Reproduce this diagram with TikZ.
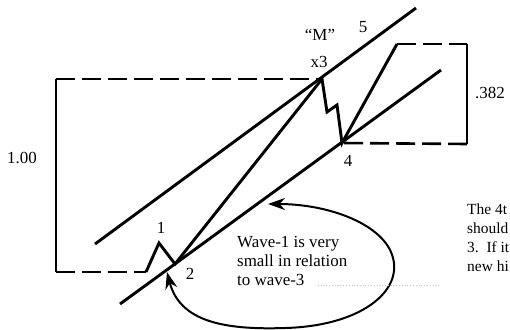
\documentclass[tikz,border=0pt]{standalone}
\usepackage{fontspec}
\setmainfont{Liberation Serif}
\usetikzlibrary{arrows.meta}

\begin{document}
\begin{tikzpicture}[
        x=1bp, y=-1bp,
        wave/.style={line width=2.9bp, line join=miter},
        guide/.style={line width=2.6bp, dash pattern=on 19bp off 7bp},
        side/.style={line width=2.2bp},
        lbl/.style={font=\fontsize{17}{19}\selectfont, inner sep=0pt},
        loop/.style={line width=2bp,
            {Stealth[length=17bp,width=12bp]}-{Stealth[length=17bp,width=12bp]}},
    ]

    \useasboundingbox (0,0) rectangle (510,329);
    \clip (0,0) rectangle (510,329);

    % wave points
    \coordinate (w0) at (146,272);
    \coordinate (w1) at (159,243);
    \coordinate (w2) at (175,264);
    \coordinate (w3) at (322,79);
    \coordinate (wa) at (327,112);
    \coordinate (wb) at (337,105);
    \coordinate (w4) at (342,143);
    \coordinate (w5) at (397,44);

    % channel
    \coordinate (upL) at (95,244);
    \coordinate (upR) at (416,8);
    \coordinate (loL) at (120,304);
    \coordinate (loR) at (441,70);

    % brackets
    \coordinate (bTop) at (56,79);
    \coordinate (bBot) at (56,272);
    \coordinate (rTop) at (467,44);
    \coordinate (rBot) at (467,144);

    \draw[wave] (upL) -- (upR);
    \draw[wave] (loL) -- (loR);
    \draw[wave] (w0) -- (w1) -- (w2) -- (w3) -- (wa) -- (wb) -- (w4) -- (w5);

    \draw[guide] (bTop) -- (w3);
    \draw[guide] (bBot) -- (w0);
    \draw[side] (bTop) -- (bBot);
    \draw[guide] (w5) -- (rTop);
    \draw[guide] (rBot) -- (w4);
    \draw[side] (rTop) -- (rBot);

    \node[lbl] (quoteM) at (320,35) {“M”};
    \node[lbl] (lblX3) at (319,62) {x3};
    \node[lbl] (lbl5) at (363,27) {5};
    \node[lbl] (lbl4) at (348,161) {4};
    \node[lbl] (lbl1) at (161,228) {1};
    \node[lbl] (lbl2) at (190,274) {2};
    \node[lbl] (ratioA) at (22,158) {1.00};
    \node[lbl] (ratioB) at (490,93) {.382};

    \node[lbl, align=left, anchor=north west] (note) at (237,236)
        {Wave-1 is very\\small in relation\\to wave-3};
    \node[lbl, font=\fontsize{15.5}{19}\selectfont, align=left,
        anchor=north west] (rule) at (467,204)
        {The 4t\\should\\3.\ \ If it\\new hi};

    % loop arrow
    \coordinate (lpA) at (167,272);
    \coordinate (lpB) at (268,204);
    \draw[loop] (lpA) .. controls (180,322) and (225,330) .. (285,328)
        .. controls (360,326) and (402,292) .. (393,258)
        .. controls (385,225) and (330,204) .. (lpB);

    \draw[gray!50, dotted, line width=0.8bp] (318,285) -- (440,285);

\end{tikzpicture}
\end{document}
